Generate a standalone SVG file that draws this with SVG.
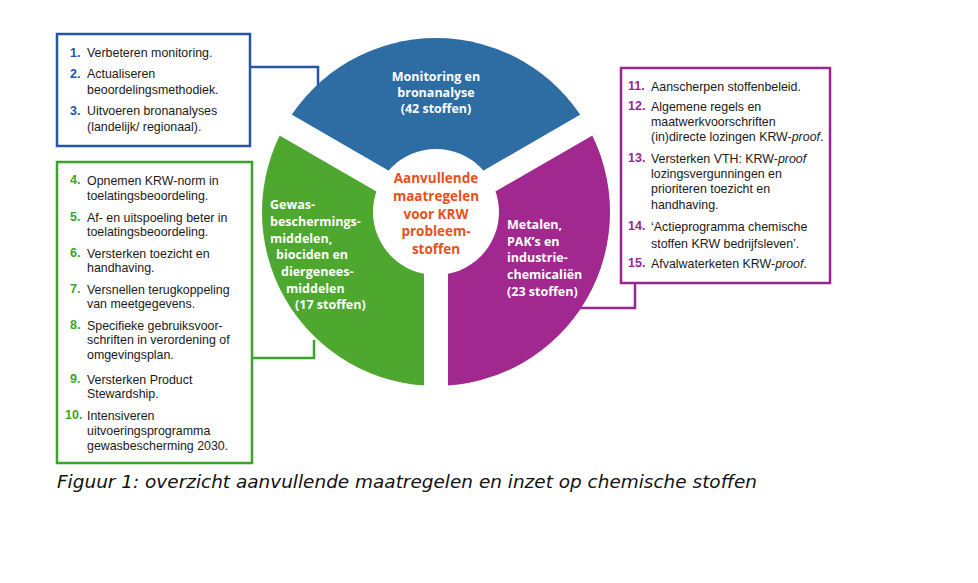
<svg xmlns="http://www.w3.org/2000/svg" width="978" height="583" viewBox="0 0 978 583">
<style>
.t{font-family:"Liberation Sans",Arial,sans-serif;font-size:12.4px;fill:#1a1a1a}
.n{font-family:"Liberation Sans",Arial,sans-serif;font-size:12.5px;font-weight:bold}
.w{font-family:"Open Sans","Liberation Sans",sans-serif;font-size:12.5px;font-weight:bold;fill:#fff}
.c{font-family:"Open Sans","Liberation Sans",sans-serif;font-size:13.5px;font-weight:bold;fill:#e8501a;text-anchor:middle}
.box{fill:#fff;stroke-width:2.5}
.con{fill:none;stroke-width:2.5}
</style>
<rect width="978" height="583" fill="#fff"/>
<g id="connectors">
<polyline class="con" stroke="#2554a8" points="250,67 318,67 318,90"/>
<polyline class="con" stroke="#3aa52a" points="252,358 314,358 314,340"/>
<polyline class="con" stroke="#9b2590" points="635,283 635,308 580,308"/>
</g>
<g id="donut">
<path d="M436,212 L285.3,125 A174 174 0 0 1 586.7,125 Z" fill="#2e6da4"/>
<path d="M436,212 L436,386 A174 174 0 0 1 285.3,125 Z" fill="#4ea72e"/>
<path d="M436,212 L586.7,125 A174 174 0 0 1 436,386 Z" fill="#a0288f"/>
<g stroke="#fff" stroke-width="24">
<line x1="436" y1="212" x2="436" y2="400"/>
<line x1="436" y1="212" x2="270" y2="116"/>
<line x1="436" y1="212" x2="602" y2="116"/>
</g>
<circle cx="436" cy="212" r="63" fill="#fff"/>
</g>
<g id="center">
<text class="c" x="436" y="183">Aanvullende</text>
<text class="c" x="436" y="201">maatregelen</text>
<text class="c" x="436" y="219">voor KRW</text>
<text class="c" x="436" y="236">probleem-</text>
<text class="c" x="436" y="254">stoffen</text>
</g>
<g id="seg-blue" text-anchor="middle">
<text class="w" x="436" y="81">Monitoring en</text>
<text class="w" x="436" y="97">bronanalyse</text>
<text class="w" x="436" y="113">(42 stoffen)</text>
</g>
<g id="seg-green">
<text class="w" x="270" y="209">Gewas-</text>
<text class="w" x="270" y="226">beschermings-</text>
<text class="w" x="270" y="243">middelen,</text>
<text class="w" x="276" y="259">biociden en</text>
<text class="w" x="281" y="276">diergenees-</text>
<text class="w" x="286" y="293">middelen</text>
<text class="w" x="295" y="309">(17 stoffen)</text>
</g>
<g id="seg-purple">
<text class="w" x="507" y="229">Metalen,</text>
<text class="w" x="507" y="246">PAK’s en</text>
<text class="w" x="507" y="262">industrie-</text>
<text class="w" x="507" y="279">chemicaliën</text>
<text class="w" x="507" y="296">(23 stoffen)</text>
</g>
<g id="box-blue">
<rect class="box" stroke="#2554a8" x="57" y="34" width="193" height="112"/>
<g class="n" fill="#2554a8"><text x="70" y="57">1.</text><text x="70" y="78">2.</text><text x="70" y="115">3.</text></g>
<text class="t" x="87" y="57">Verbeteren monitoring.</text>
<text class="t" x="87" y="78">Actualiseren</text>
<text class="t" x="87" y="94">beoordelingsmethodiek.</text>
<text class="t" x="87" y="115">Uitvoeren bronanalyses</text>
<text class="t" x="87" y="131">(landelijk/ regionaal).</text>
</g>
<g id="box-green">
<rect class="box" stroke="#3aa52a" x="57" y="162" width="195" height="301"/>
<g class="n" fill="#3aa52a">
<text x="70" y="184">4.</text><text x="70" y="221">5.</text><text x="70" y="257">6.</text><text x="70" y="293">7.</text><text x="70" y="329">8.</text><text x="70" y="383">9.</text><text x="65" y="419">10.</text>
</g>
<text class="t" x="87" y="185">Opnemen KRW-norm in</text>
<text class="t" x="87" y="200">toelatingsbeoordeling.</text>
<text class="t" x="87" y="222">Af- en uitspoeling beter in</text>
<text class="t" x="87" y="236">toelatingsbeoordeling.</text>
<text class="t" x="87" y="258">Versterken toezicht en</text>
<text class="t" x="87" y="272">handhaving.</text>
<text class="t" x="87" y="294">Versnellen terugkoppeling</text>
<text class="t" x="87" y="308">van meetgegevens.</text>
<text class="t" x="87" y="330">Specifieke gebruiksvoor-</text>
<text class="t" x="87" y="344">schriften in verordening of</text>
<text class="t" x="87" y="359">omgevingsplan.</text>
<text class="t" x="87" y="384">Versterken Product</text>
<text class="t" x="87" y="398">Stewardship.</text>
<text class="t" x="87" y="420">Intensiveren</text>
<text class="t" x="87" y="435">uitvoeringsprogramma</text>
<text class="t" x="87" y="450">gewasbescherming 2030.</text>
</g>
<g id="box-purple">
<rect class="box" stroke="#9b2590" x="621" y="68" width="209" height="215"/>
<g class="n" fill="#9b2590">
<text x="628" y="90">11.</text><text x="628" y="110">12.</text><text x="628" y="162">13.</text><text x="628" y="230">14.</text><text x="628" y="267">15.</text>
</g>
<text class="t" x="651" y="91">Aanscherpen stoffenbeleid.</text>
<text class="t" x="651" y="111">Algemene regels en</text>
<text class="t" x="651" y="126">maatwerkvoorschriften</text>
<text class="t" x="651" y="141">(in)directe lozingen KRW-<tspan font-style="italic">proof</tspan>.</text>
<text class="t" x="651" y="163">Versterken VTH: KRW-<tspan font-style="italic">proof</tspan></text>
<text class="t" x="651" y="178">lozingsvergunningen en</text>
<text class="t" x="651" y="193">prioriteren toezicht en</text>
<text class="t" x="651" y="209">handhaving.</text>
<text class="t" x="651" y="231">‘Actieprogramma chemische</text>
<text class="t" x="651" y="248">stoffen KRW bedrijfsleven’.</text>
<text class="t" x="651" y="268">Afvalwaterketen KRW-<tspan font-style="italic">proof</tspan>.</text>
</g>
<text x="57" y="488" font-family="DejaVu Sans,Verdana,sans-serif" font-style="italic" font-size="17" fill="#111" textLength="700" lengthAdjust="spacingAndGlyphs">Figuur 1: overzicht aanvullende maatregelen en inzet op chemische stoffen</text>
</svg>
